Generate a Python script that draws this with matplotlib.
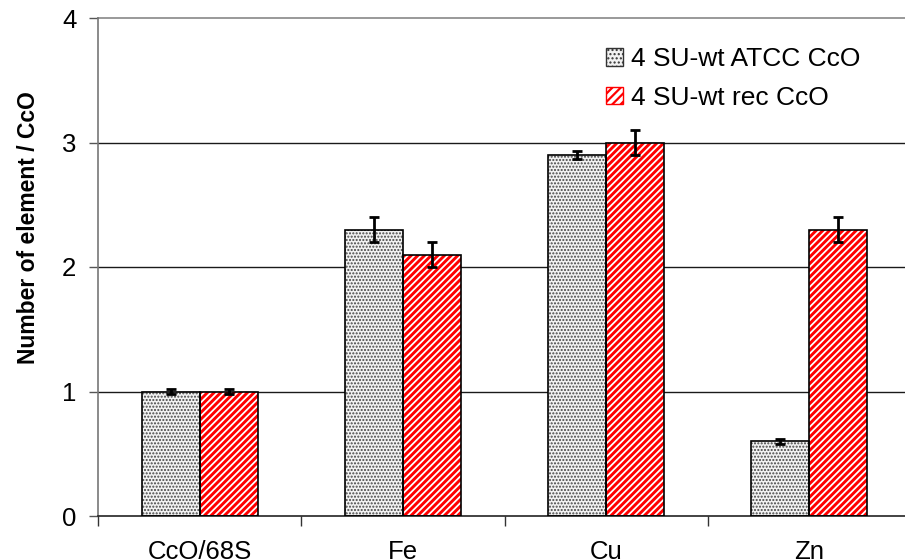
import matplotlib
matplotlib.use("Agg")
import matplotlib.pyplot as plt
import numpy as np
from matplotlib.patches import Patch

plt.rcParams['font.family'] = ['Liberation Sans', 'DejaVu Sans']

categories = ["CcO/68S", "Fe", "Cu", "Zn"]
atcc_values = [1.0, 2.3, 2.9, 0.6]
atcc_errors = [0.02, 0.1, 0.03, 0.02]
rec_values = [1.0, 2.1, 3.0, 2.3]
rec_errors = [0.02, 0.1, 0.1, 0.1]
series_labels = ["4 SU-wt ATCC CcO", "4 SU-wt rec CcO"]
yticks = [0, 1, 2, 3, 4]

DOT_LW = 1.0
STRIPE_LW = 2.1
DOT_HATCH = '.....'
STRIPE_HATCH = '/////'


def set_hatch_lw(patches, lw):
    for p in patches:
        if hasattr(p, "set_hatch_linewidth"):
            p.set_hatch_linewidth(lw)
        else:
            p._hatch_linewidth = lw


fig = plt.figure(figsize=(9.05, 5.6), dpi=100)
ax = fig.add_axes([98 / 905, 1 - 516 / 560, 813 / 905, 498 / 560])

x = np.arange(len(categories))
w = 0.285

# grid lines behind bars
for yv in yticks[1:4]:
    ax.axhline(yv, color='#1a1a1a', lw=1.0, zorder=0)

# dotted grey bars
with plt.rc_context({'hatch.linewidth': DOT_LW}):
    b1 = ax.bar(x - w / 2, atcc_values, w, color='#f2f2f2', hatch=DOT_HATCH,
                edgecolor='#444444', linewidth=0, zorder=2)
set_hatch_lw(b1, DOT_LW)
ax.bar(x - w / 2, atcc_values, w, fill=False, edgecolor='black',
       linewidth=1.2, zorder=3)
# red striped bars
with plt.rc_context({'hatch.linewidth': STRIPE_LW}):
    b2 = ax.bar(x + w / 2, rec_values, w, color='white', hatch=STRIPE_HATCH,
                edgecolor='#ff0000', linewidth=0, zorder=2)
set_hatch_lw(b2, STRIPE_LW)
ax.bar(x + w / 2, rec_values, w, fill=False, edgecolor='black',
       linewidth=1.2, zorder=3)

ax.errorbar(x - w / 2, atcc_values, yerr=atcc_errors, fmt='none',
            ecolor='black', elinewidth=2, capsize=3.5, capthick=2, zorder=4)
ax.errorbar(x + w / 2, rec_values, yerr=rec_errors, fmt='none',
            ecolor='black', elinewidth=2, capsize=3.5, capthick=2, zorder=4)

ax.set_xlim(-0.5, len(categories) - 0.5)
ax.set_ylim(0, 4)
ax.set_yticks(yticks)
ax.set_yticklabels([str(v) for v in yticks], fontsize=18.5)
ax.set_xticks(x)
ax.set_xticklabels(categories, fontsize=18.5)
ax.tick_params(axis='x', length=0, pad=17)
ax.set_xticks(np.arange(len(categories) + 1) - 0.5, minor=True)
ax.tick_params(axis='x', which='minor', length=7, width=1, color='#333333',
               direction='out')
ax.tick_params(axis='y', length=6.5, width=1, color='#555555', direction='out',
               pad=9)

for s in ['top', 'right']:
    ax.spines[s].set_visible(False)
ax.spines['left'].set_color('#777777')
ax.spines['left'].set_linewidth(1.2)
ax.spines['bottom'].set_color('#222222')
ax.spines['bottom'].set_linewidth(1.2)
ax.axhline(4, color='#888888', lw=1.2, zorder=1, clip_on=False)

ax.set_ylabel("Number of element / CcO", fontsize=16.5, fontweight='bold')
ax.yaxis.set_label_coords(-58 / 813, (516 - 228) / 498)

handles = [
    Patch(facecolor='#f2f2f2', hatch='....', edgecolor='#333333', label=series_labels[0]),
    Patch(facecolor='white', hatch='////', edgecolor='#ff0000', label=series_labels[1]),
]
leg = ax.legend(handles=handles, loc='upper left',
                bbox_to_anchor=((593 - 98) / 813, (516 - 34) / 498),
                frameon=False, fontsize=19, handlelength=0.65, handleheight=0.65,
                handletextpad=0.3, labelspacing=0.55, borderpad=0)
for p in leg.get_patches():
    p.set_linewidth(1.0)
set_hatch_lw(leg.get_patches()[:1], DOT_LW)
set_hatch_lw(leg.get_patches()[1:], 1.6)

fig.savefig("out.png", dpi=100)
